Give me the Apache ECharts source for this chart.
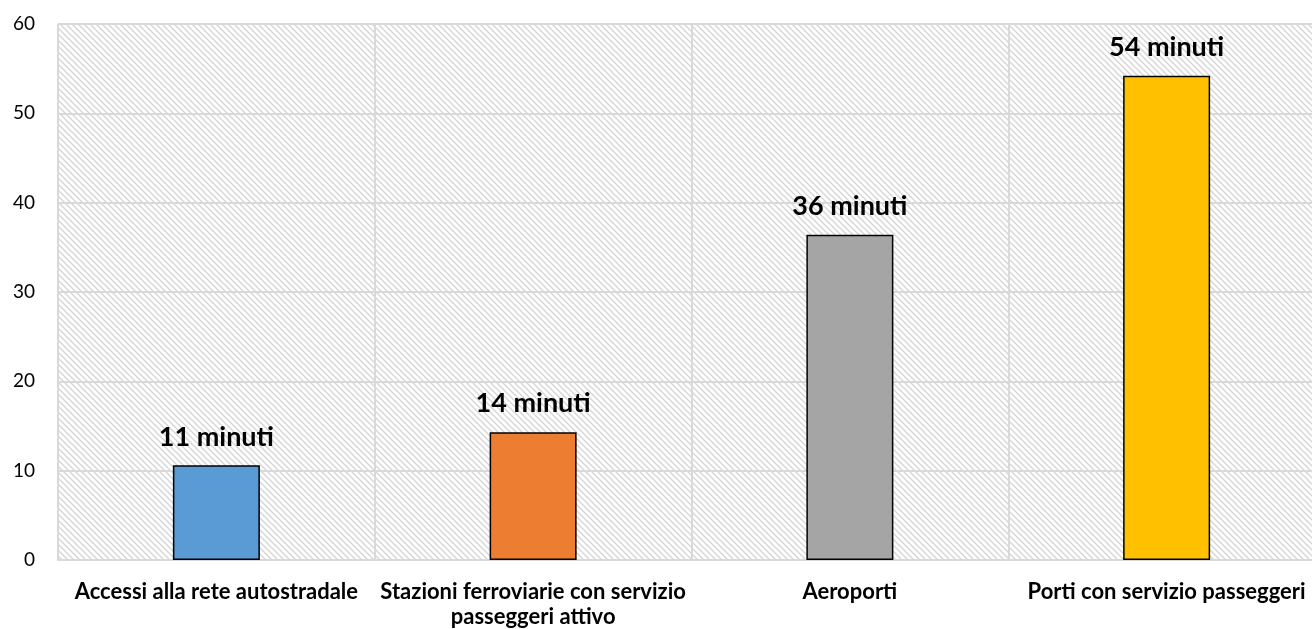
<!DOCTYPE html>
<html>
<head>
<meta charset="utf-8">
<script src="https://cdn.jsdelivr.net/npm/echarts@6/dist/echarts.min.js"></script>
<style>
html,body{margin:0;padding:0;background:#fff;}
#chart{width:1312px;height:629px;}
</style>
</head>
<body>
<div id="chart"></div>
<script>
const categories = ['Accessi alla rete autostradale', 'Stazioni ferroviarie con servizio\npasseggeri attivo', 'Aeroporti', 'Porti con servizio passeggeri'];
const values = [10.6, 14.3, 36.4, 54.2];
const labels = ['11 minuti', '14 minuti', '36 minuti', '54 minuti'];
const colors = ['#5B9BD5', '#ED7D31', '#A5A5A5', '#FFC000'];
const yTicks = [0, 10, 20, 30, 40, 50, 60];

function hatch() {
  const c = document.createElement('canvas');
  c.width = 6; c.height = 6;
  const ctx = c.getContext('2d');
  ctx.fillStyle = '#ffffff';
  ctx.fillRect(0, 0, 6, 6);
  ctx.strokeStyle = '#d4d4d4';
  ctx.lineWidth = 1.3;
  ctx.beginPath();
  ctx.moveTo(-1, -1); ctx.lineTo(7, 7);
  ctx.moveTo(-7, -1); ctx.lineTo(1, 7);
  ctx.moveTo(5, -1); ctx.lineTo(13, 7);
  ctx.stroke();
  return c;
}

const chart = echarts.init(document.getElementById('chart'));
chart.setOption({
  animation: false,
  grid: {
    left: 58, width: 1267, top: 24, bottom: 69,
    containLabel: false,
    outerBoundsMode: 'none',
    show: true,
    backgroundColor: { image: hatch(), repeat: 'repeat' },
    borderColor: '#d9d9d9', borderWidth: 1
  },
  xAxis: {
    type: 'category',
    data: categories,
    axisLine: { show: true, lineStyle: { color: '#d9d9d9', width: 2 } },
    axisTick: { show: false },
    splitLine: { show: true, lineStyle: { color: '#d9d9d9', width: 2 } },
    axisLabel: {
      interval: 0, margin: 19,
      fontFamily: 'Lato', fontWeight: 'bold', fontSize: 22, color: '#000',
      lineHeight: 25
    }
  },
  yAxis: {
    type: 'value',
    min: yTicks[0], max: yTicks[yTicks.length - 1], interval: 10,
    axisLine: { show: false },
    axisTick: { show: false },
    splitLine: { show: true, lineStyle: { color: '#d9d9d9', width: 2 } },
    axisLabel: { fontFamily: 'Lato', fontSize: 19, color: '#000', margin: 23 }
  },
  series: [{
    type: 'bar',
    barWidth: 87,
    data: values.map((v, i) => ({
      value: v,
      itemStyle: { color: colors[i], borderColor: '#000', borderWidth: 1.5 },
      label: { formatter: labels[i] }
    })),
    label: {
      show: true, position: 'top', distance: 15,
      fontFamily: 'Lato', fontWeight: 'bold', fontSize: 27, color: '#000'
    }
  }]
});
</script>
</body>
</html>
